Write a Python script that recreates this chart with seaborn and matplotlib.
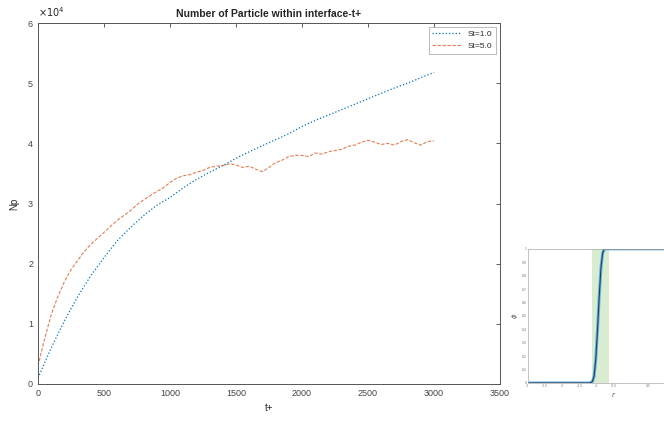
import numpy as np
import pandas as pd
import matplotlib
matplotlib.use("Agg")
import matplotlib.pyplot as plt
import seaborn as sns

# main chart data (Np in units of 1e4)
t_blue = [0, 100, 200, 300, 400, 500, 600, 700, 800, 900, 1000, 1100, 1200, 1300,
          1400, 1500, 1600, 1700, 1800, 1900, 2000, 2100, 2200, 2300, 2400, 2500,
          2600, 2700, 2800, 2900, 3000]
np_blue = [0.1, 0.6, 1.05, 1.45, 1.8, 2.1, 2.38, 2.6, 2.8, 2.97, 3.1, 3.26, 3.4, 3.52,
           3.63, 3.75, 3.86, 3.96, 4.06, 4.16, 4.28, 4.38, 4.47, 4.56, 4.65, 4.74,
           4.83, 4.92, 5.0, 5.09, 5.18]

t_red = list(range(0, 3001, 50))
np_red = [0.3, 0.75, 1.15, 1.45, 1.7, 1.9, 2.05, 2.2, 2.32, 2.42, 2.52, 2.62, 2.72,
          2.8, 2.88, 2.98, 3.06, 3.13, 3.2, 3.26, 3.35, 3.42, 3.46, 3.48, 3.52,
          3.55, 3.6, 3.62, 3.63, 3.66, 3.64, 3.6, 3.62, 3.57, 3.53, 3.6, 3.68,
          3.72, 3.78, 3.8, 3.8, 3.78, 3.84, 3.82, 3.86, 3.88, 3.9, 3.95, 3.97,
          4.02, 4.05, 4.02, 3.98, 4.0, 3.97, 4.03, 4.06, 4.01, 3.97, 4.03, 4.04]

series_labels = ["St=1.0", "St=5.0"]
x_ticks = [0, 500, 1000, 1500, 2000, 2500, 3000, 3500]
y_ticks = [0, 1, 2, 3, 4, 5, 6]

# inset profile data
inset_x = [0, 1, 2, 3, 3.6, 3.75, 3.85, 3.95, 4.05, 4.15, 4.25, 4.35, 4.45, 5, 6, 8, 10]
inset_phi = [0, 0, 0, 0, 0, 0.01, 0.05, 0.18, 0.4, 0.65, 0.86, 0.97, 1.0, 1.0, 1.0, 1.0, 1.0]
band = (3.7, 4.7)

sns.set_style("white")
plt.rcParams['font.family'] = ['Liberation Sans', 'DejaVu Sans']

fig = plt.figure(figsize=(6.64, 4.23), dpi=100)
ax = fig.add_axes([0.0572, 0.0922, 0.6958, 0.8534])

df_b = pd.DataFrame({"t": t_blue, "Np": np_blue})
df_r = pd.DataFrame({"t": t_red, "Np": np_red})
sns.lineplot(data=df_b, x="t", y="Np", ax=ax, color="#0072BD", lw=0.9,
             linestyle=":", label=series_labels[0])
sns.lineplot(data=df_r, x="t", y="Np", ax=ax, color="#D95319", lw=0.8, alpha=0.75,
             linestyle=(0, (3, 1.5)), label=series_labels[1])

ax.set_xlim(0, 3500)
ax.set_ylim(0, 6)
ax.set_xticks(x_ticks)
ax.set_yticks(y_ticks)
ax.tick_params(direction="in", length=3, width=0.6, labelsize=6.5, colors="#444444",
               top=True, right=True)
for s in ax.spines.values():
    s.set_color("#555555")
    s.set_linewidth(0.7)
ax.set_xlabel("t+", fontsize=7, labelpad=4)
ax.set_ylabel("Np", fontsize=7, labelpad=6)
ax.set_title("Number of Particle within interface-t+", fontsize=7.5, fontweight="bold", pad=4)
ax.text(0.0, 1.01, r"$\times10^4$", transform=ax.transAxes, fontsize=7, ha="left", va="bottom")
leg = ax.legend(loc="upper right", fontsize=6, frameon=True, fancybox=False,
                edgecolor="#888888", handlelength=3.5, borderpad=0.4)
leg.get_frame().set_linewidth(0.5)

# inset on the right
ax2 = fig.add_axes([0.795, 0.0946, 0.259, 0.317])
ax2.axvspan(band[0], band[1], color="#cfe8c4", alpha=0.8, lw=0)
sns.lineplot(x=inset_x, y=inset_phi, ax=ax2, color="#6fb3e0", lw=2.2)
sns.lineplot(x=inset_x, y=inset_phi, ax=ax2, color="#1d3f5e", lw=0.8)
ax2.set_xlim(0, 10)
ax2.set_ylim(0, 1)
ax2.set_xticks([0, 1, 2, 3, 4, 5, 7])
ax2.set_xticklabels(["-3", "-2.5", "-2", "-1.5", "-1", "-0.5", "0.5"])
ax2.set_yticks(np.arange(0, 1.01, 0.1))
ax2.set_yticklabels(["0", "0.1", "0.2", "0.3", "0.4", "0.5", "0.6", "0.7", "0.8", "0.9", "1"])
ax2.tick_params(direction="in", length=1.5, width=0.4, labelsize=2.5, colors="#777777", pad=1)
for s in ax2.spines.values():
    s.set_color("#aaaaaa")
    s.set_linewidth(0.5)
ax2.set_xlabel(r"$r$", fontsize=5, labelpad=1, color="#555555")
ax2.set_ylabel(r"$\phi$", fontsize=5, labelpad=1, color="#555555")

fig.savefig("out.png", dpi=100)
